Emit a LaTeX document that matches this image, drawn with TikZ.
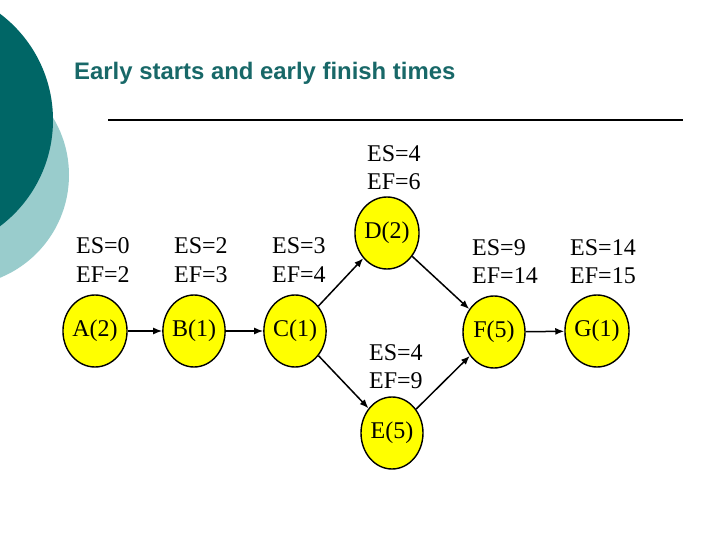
\documentclass[tikz,border=0pt]{standalone}
\usepackage{fontspec}
\setmainfont{Liberation Serif}
\newfontfamily\titlefont{Liberation Sans}
\usetikzlibrary{shapes.geometric,arrows.meta}
\definecolor{darkteal}{RGB}{0,102,102}
\definecolor{lightteal}{RGB}{153,204,204}
\definecolor{titleteal}{RGB}{24,104,104}
\definecolor{actyellow}{RGB}{255,255,0}
\tikzset{
  act/.style={ellipse,draw=black,line width=1.4pt,fill=actyellow,minimum width=62pt,minimum height=72pt,inner sep=0pt,font=\fontsize{24}{27}\selectfont},
  lab/.style={anchor=base west,inner sep=0pt,font=\fontsize{24}{27}\selectfont},
  conn/.style={line width=1.5pt,-{Latex[length=9pt,width=7pt]}}
}
\begin{document}
\begin{tikzpicture}[x=1pt,y=-1pt]
\useasboundingbox (0,0) rectangle (720,540);
\fill[lightteal] (-42,175) circle (111);
\fill[darkteal] (-80,120) circle (133);
\node[anchor=base west,inner sep=0pt,text=titleteal,font=\titlefont\bfseries\fontsize{23.9}{27}\selectfont] (title) at (74,80) {Early starts and early finish times};
\coordinate (rl) at (108,120);
\coordinate (rr) at (683,120);
\draw[line width=2pt] (rl) -- (rr);
\node[act] (A) at (95,331) {A(2)};
\node[act] (B) at (194,331) {B(1)};
\node[act] (C) at (295,331) {C(1)};
\node[act] (D) at (387,233) {D(2)};
\node[act] (E) at (392,433) {E(5)};
\node[act] (F) at (494,332) {F(5)};
\node[act] (G) at (597,331) {G(1)};
\draw[conn] (A) -- (B);
\draw[conn] (B) -- (C);
\draw[conn] (C) -- (D);
\draw[conn] (C) -- (E);
\draw[conn] (D) -- (F);
\draw[conn] (E) -- (F);
\draw[conn] (F) -- (G);
\node[lab] (a1) at (76,253) {ES=0};
\node[lab] (a2) at (76,282) {EF=2};
\node[lab] (b1) at (174,253) {ES=2};
\node[lab] (b2) at (174,282) {EF=3};
\node[lab] (c1) at (272,253) {ES=3};
\node[lab] (c2) at (272,282) {EF=4};
\node[lab] (d1) at (367,162) {ES=4};
\node[lab] (d2) at (367,190) {EF=6};
\node[lab] (e1) at (369,360) {ES=4};
\node[lab] (e2) at (369,388) {EF=9};
\node[lab] (f1) at (472,255) {ES=9};
\node[lab] (f2) at (472,283) {EF=14};
\node[lab] (g1) at (570,255) {ES=14};
\node[lab] (g2) at (570,283) {EF=15};
\end{tikzpicture}
\end{document}
